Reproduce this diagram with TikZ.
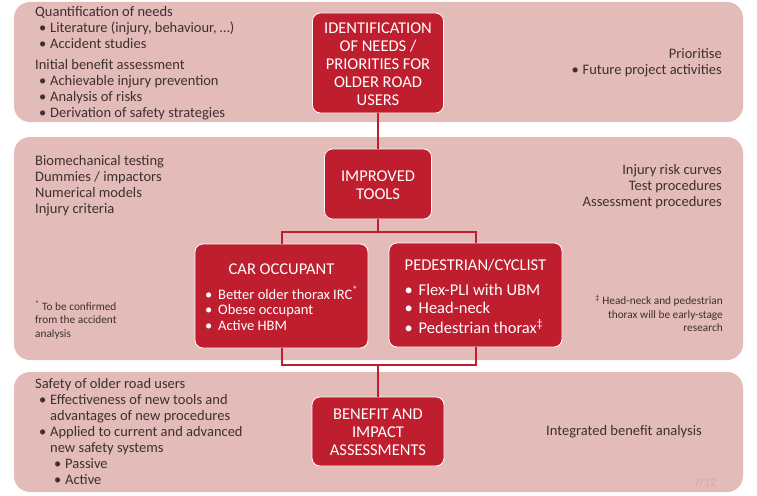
\documentclass[tikz,border=0pt]{standalone}
\usepackage{fontspec}
\setmainfont{Carlito}
\usetikzlibrary{positioning}
\definecolor{bandpink}{RGB}{227,187,184}
\definecolor{boxred}{RGB}{190,30,45}
\definecolor{textgrey}{RGB}{62,48,48}
\definecolor{pagegrey}{RGB}{205,172,170}
% bullets for the side texts and for the red boxes
\newcommand{\bitem}[1]{\makebox[15pt][l]{\hspace{4pt}\textbullet}#1}
\newcommand{\bcont}[1]{\hspace*{15pt}#1}
\newcommand{\bsub}[1]{\makebox[30pt][l]{\hspace{19pt}\textbullet}#1}
\newcommand{\boxitem}[2][13pt]{\makebox[#1][l]{\textbullet}#2}
\newcommand{\shiftdown}[2][1pt]{\raisebox{-#1}[\height][\depth]{#2}}

\begin{document}
\begin{tikzpicture}[
    x=1pt, y=-1pt,
    band/.style={fill=bandpink, rounded corners=16pt},
    redbox/.style={draw=white, line width=0.8pt, fill=boxred, rounded corners=8pt, text=white, align=center, inner sep=2pt, font=\fontsize{16.5}{18}\selectfont},
    note/.style={inner sep=0pt, text=textgrey, font=\fontsize{14.5}{16}\selectfont},
    footnote/.style={inner sep=0pt, text=textgrey, font=\fontsize{11.3}{13.5}\selectfont},
    link/.style={draw=boxred, line width=2pt},
]
    \useasboundingbox (0,0) rectangle (757,495);

    % the three bands
    \fill[band] (14,2) rectangle (743,122);
    \fill[band] (14,137) rectangle (743,360);
    \fill[band] (14,372) rectangle (743,492);

    % red boxes
    \node[redbox, minimum width=131pt, minimum height=100pt] (ident) at (378,63)
        {\shiftdown[3pt]{\begin{tabular}{@{}c@{}}IDENTIFICATION\\OF NEEDS /\\PRIORITIES FOR\\OLDER ROAD\\USERS\end{tabular}}};
    \node[redbox, minimum width=107pt, minimum height=70pt] (tools) at (378,184)
        {\shiftdown[3pt]{\begin{tabular}{@{}c@{}}IMPROVED\\TOOLS\end{tabular}}};
    \node[redbox, minimum width=173pt, minimum height=104pt, font=\fontsize{14.5}{15.5}\selectfont] (car) at (281.5,296)
        {\shiftdown[3pt]{\begin{tabular}{@{}l@{}}
         \multicolumn{1}{@{}c@{}}{\fontsize{16.5}{18}\selectfont CAR OCCUPANT}\\[8pt]
         \boxitem{Better older thorax IRC\textsuperscript{*}}\\
         \boxitem{Obese occupant}\\
         \boxitem{Active HBM}
         \end{tabular}}};
    \node[redbox, minimum width=173pt, minimum height=104pt] (ped) at (475.5,295)
        {\shiftdown[3.5pt]{\begin{tabular}{@{}l@{}}
         \multicolumn{1}{@{}c@{}}{PEDESTRIAN/CYCLIST}\\[7pt]
         \boxitem[14pt]{Flex-PLI with UBM}\\
         \boxitem[14pt]{Head-neck}\\
         \boxitem[14pt]{Pedestrian thorax\textsuperscript{\textdaggerdbl}}
         \end{tabular}}};
    \node[redbox, minimum width=132pt, minimum height=69pt] (benefit) at (378,431.5)
        {\shiftdown[2pt]{\begin{tabular}{@{}c@{}}BENEFIT AND\\IMPACT\\ASSESSMENTS\end{tabular}}};

    % connectors
    \coordinate (split) at (378,232);
    \coordinate (join) at (378,365);
    \draw[link] (ident) -- (tools);
    \draw[link] (tools) -- (split);
    \draw[link] (car.north) |- (split) -| (ped.north);
    \draw[link] (car.south) |- (join) -| (ped.south);
    \draw[link] (join) -- (benefit);

    % side texts
    \node[note, align=left, anchor=north west] (needs) at (35,6.2)
        {Quantification of needs\\
         \bitem{Literature (injury, behaviour, …)}\\
         \bitem{Accident studies}\\[5.5pt]
         Initial benefit assessment\\
         \bitem{Achievable injury prevention}\\
         \bitem{Analysis of risks}\\
         \bitem{Derivation of safety strategies}};
    \node[note, align=right, anchor=north east] (prio) at (722,48)
        {Prioritise\\ \bitem{Future project activities}};
    \node[note, align=left, anchor=north west] (testing) at (35,155)
        {Biomechanical testing\\Dummies / impactors\\Numerical models\\Injury criteria};
    \node[note, align=right, anchor=north east] (curves) at (722,164)
        {Injury risk curves\\Test procedures\\Assessment procedures};
    \node[footnote, align=left, anchor=north west] (confirm) at (35,300.5)
        {\textsuperscript{*} To be confirmed\\from the accident\\analysis};
    \node[footnote, align=right, anchor=north east] (early) at (723,295)
        {\textsuperscript{\textdaggerdbl} Head-neck and pedestrian\\thorax will be early-stage\\research};
    \node[note, align=left, anchor=north west] (safety) at (35,378.5)
        {Safety of older road users\\
         \bitem{Effectiveness of new tools and}\\
         \bcont{advantages of new procedures}\\
         \bitem{Applied to current and advanced}\\
         \bcont{new safety systems}\\
         \bsub{Passive}\\
         \bsub{Active}};
    \node[note, anchor=west] (integrated) at (546,432) {Integrated benefit analysis};
    \node[inner sep=0pt, text=pagegrey, font=\fontsize{11.5}{13}\selectfont] (page) at (705,483) {7/12};
\end{tikzpicture}
\end{document}
